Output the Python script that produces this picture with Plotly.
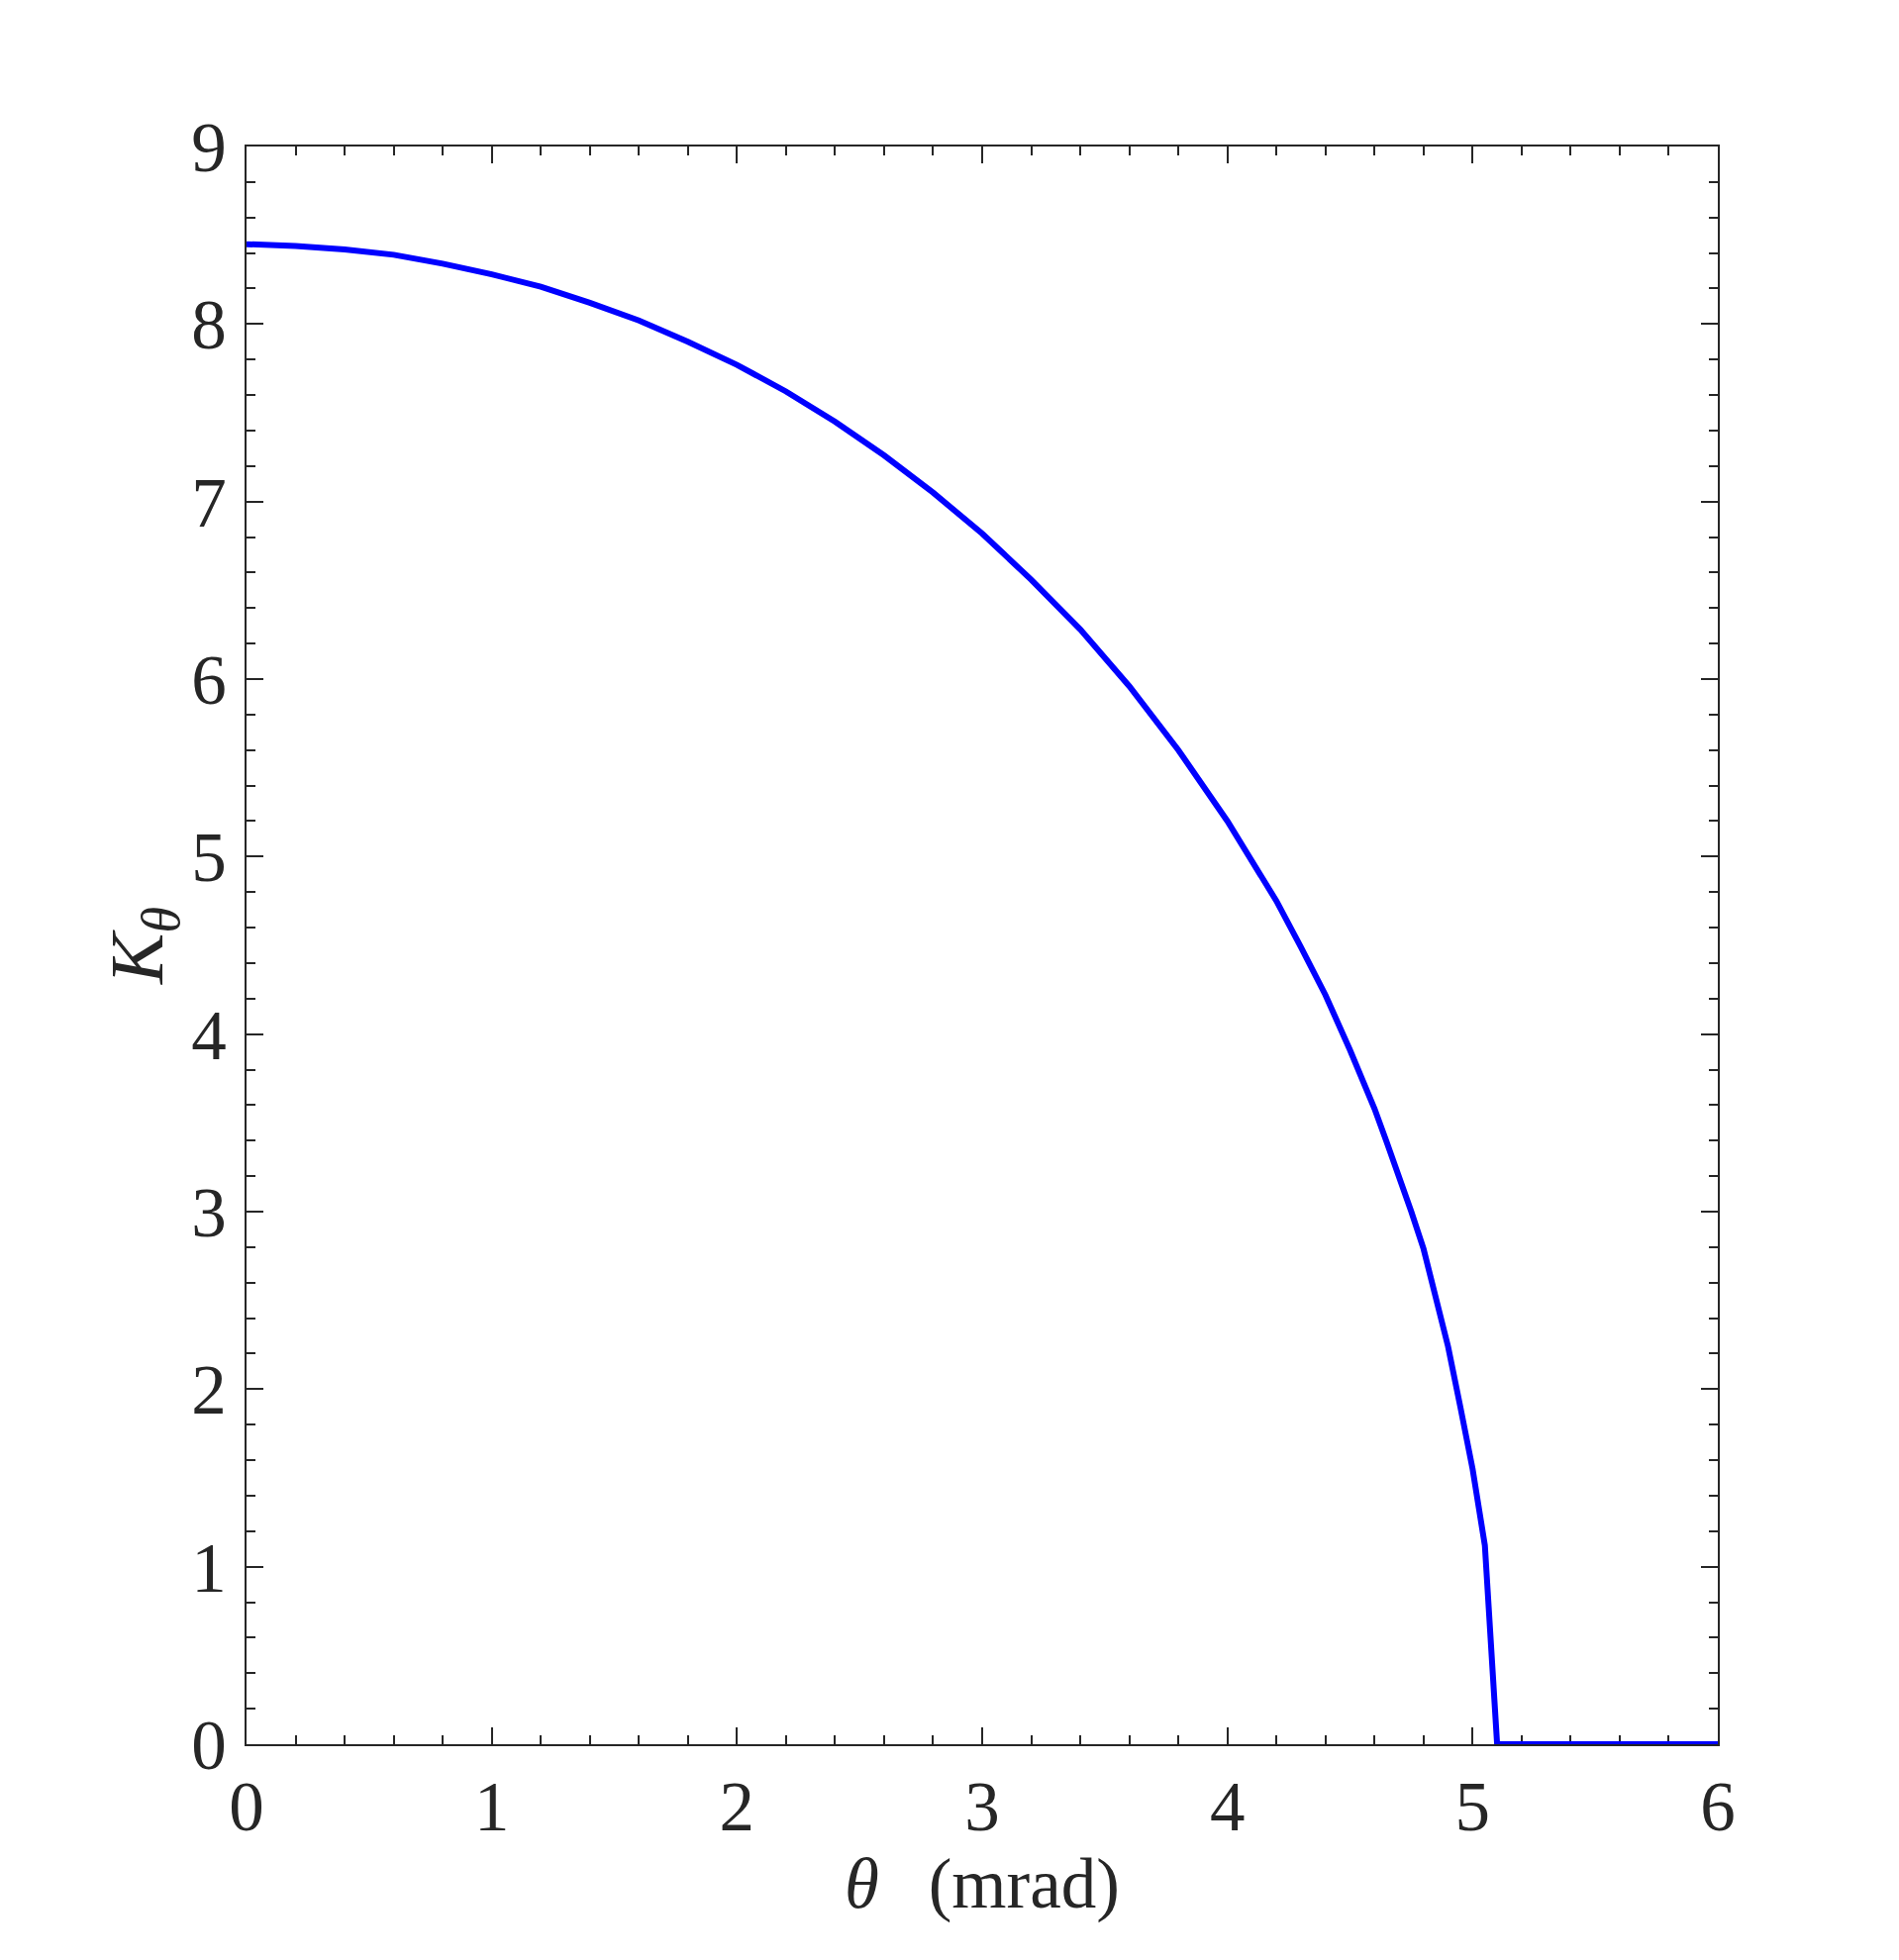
import plotly.graph_objects as go

# K_theta (theta in mrad)
theta = [0.0, 0.2, 0.4, 0.6, 0.8, 1.0, 1.2, 1.4, 1.6, 1.8, 2.0, 2.2, 2.4, 2.6,
         2.8, 3.0, 3.2, 3.4, 3.6, 3.8, 4.0, 4.1, 4.2, 4.3, 4.4, 4.5, 4.55, 4.6,
         4.65, 4.7, 4.75, 4.8, 4.85, 4.9, 4.95, 5.0, 5.05, 5.1, 6.0]
k_theta = [8.45, 8.44, 8.42, 8.39, 8.34, 8.28, 8.21, 8.12, 8.02, 7.90, 7.77,
           7.62, 7.45, 7.26, 7.05, 6.82, 6.56, 6.28, 5.96, 5.60, 5.20, 4.98,
           4.75, 4.49, 4.22, 3.91, 3.75, 3.58, 3.39, 3.20, 3.00, 2.79, 2.53,
           2.24, 1.90, 1.55, 1.12, 0.0, 0.0]

x_ticks = [0, 1, 2, 3, 4, 5, 6]
y_ticks = [0, 1, 2, 3, 4, 5, 6, 7, 8, 9]

INK = "#262626"
FONT = "Liberation Serif"

fig = go.Figure()
fig.add_trace(go.Scatter(
    x=theta, y=k_theta, mode="lines",
    line=dict(color="#0000ff", width=6),
    showlegend=False,
))

axis_common = dict(
    showline=True, linecolor=INK, linewidth=2, mirror="allticks",
    ticks="inside", ticklen=17, tickwidth=2, tickcolor=INK,
    showgrid=False, zeroline=False, layer="below traces", automargin=False,
    tickfont=dict(family=FONT, size=71, color=INK),
    minor=dict(ticks="inside", ticklen=9, tickwidth=2, tickcolor=INK,
               dtick=0.2, showgrid=False),
)

fig.update_layout(
    width=1900, height=1960,
    paper_bgcolor="white", plot_bgcolor="white",
    margin=dict(l=241, r=173, t=140, b=206),
    font=dict(family=FONT, color=INK),
    xaxis=dict(
        range=[0, 6], tickvals=x_ticks, **axis_common,
        title=dict(text="<i>θ</i>\u2002\u2009(mrad)", standoff=0,
                   font=dict(family=FONT, size=71, color=INK)),
    ),
    yaxis=dict(
        range=[0, 9], tickvals=y_ticks, ticklabelstandoff=4, **axis_common,
        title=dict(text="<i>K</i><sub><i>θ</i></sub>", standoff=3,
                   font=dict(family=FONT, size=77, color=INK)),
    ),
)

fig.write_html("out.html")
